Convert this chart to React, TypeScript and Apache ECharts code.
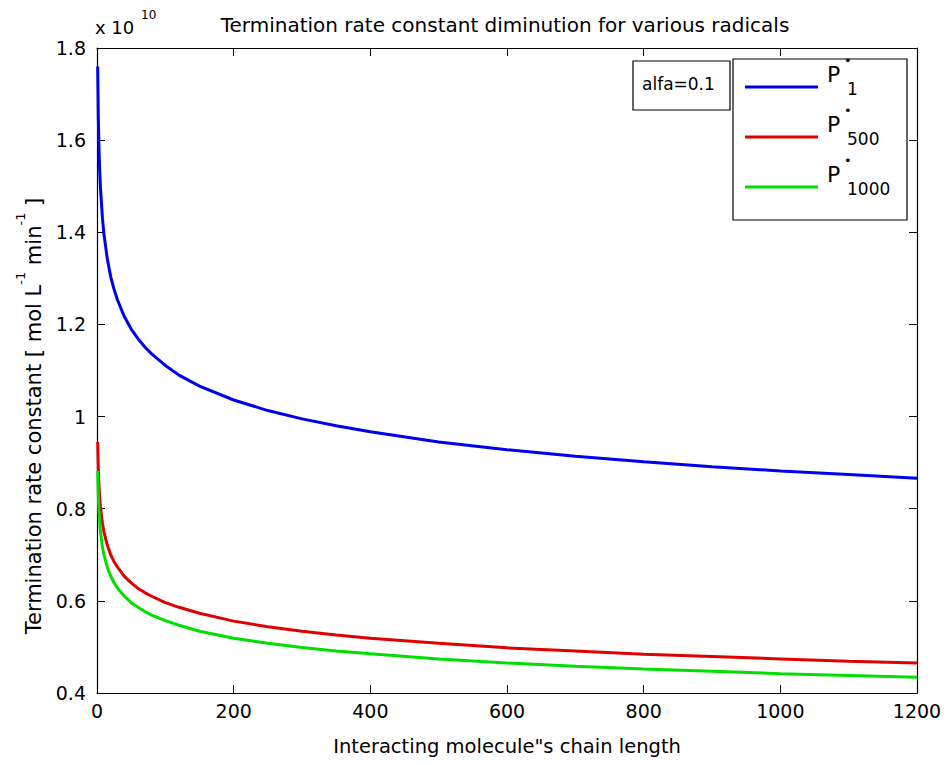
import React, { useEffect, useRef } from "react";
import * as echarts from "echarts";

// Chain length (x) sampled along the curves
const chainLength = [1, 2, 3, 4, 5, 8, 10, 15, 20, 25, 30, 40, 50, 60, 70, 80, 100, 120, 150, 200, 250, 300, 350, 400, 500, 600, 700, 800, 900, 1000, 1100, 1200];

// Values (x 10^10)
const p1Values = [1.760, 1.642, 1.577, 1.532, 1.498, 1.430, 1.398, 1.343, 1.304, 1.276, 1.253, 1.217, 1.190, 1.169, 1.151, 1.136, 1.111, 1.090, 1.066, 1.036, 1.013, 0.995, 0.980, 0.967, 0.945, 0.928, 0.914, 0.902, 0.891, 0.882, 0.874, 0.866];
const p500Values = [0.945, 0.882, 0.847, 0.823, 0.804, 0.768, 0.751, 0.721, 0.700, 0.685, 0.673, 0.653, 0.639, 0.627, 0.618, 0.610, 0.596, 0.586, 0.573, 0.556, 0.544, 0.534, 0.526, 0.519, 0.508, 0.498, 0.491, 0.484, 0.479, 0.474, 0.469, 0.465];
const p1000Values = [0.882, 0.823, 0.790, 0.768, 0.751, 0.716, 0.701, 0.673, 0.654, 0.639, 0.628, 0.610, 0.596, 0.586, 0.577, 0.569, 0.557, 0.547, 0.534, 0.519, 0.508, 0.499, 0.491, 0.485, 0.474, 0.465, 0.458, 0.452, 0.447, 0.442, 0.438, 0.434];

const seriesNames = ["P1", "P500", "P1000"];
const subscripts = ["1", "500", "1000"];
const seriesColors = ["#0000f0", "#e00000", "#00e000"];

const titleText = "Termination rate constant diminution for various radicals";
const xAxisTitle = "Interacting molecule\"s chain length";
const alfaText = "alfa=0.1";

const FONT = "DejaVu Sans, Verdana, sans-serif";

export default function App() {
  const ref = useRef<HTMLDivElement>(null);

  useEffect(() => {
    document.body.style.margin = "0";
    if (!ref.current) return;
    const chart = echarts.init(ref.current, undefined, { renderer: "svg" });

    const allValues = [p1Values, p500Values, p1000Values];
    const series = allValues.map((vals, i) => ({
      name: seriesNames[i],
      type: "line",
      xAxisIndex: 0,
      yAxisIndex: 0,
      data: chainLength.map((x, j) => [x, vals[j]]),
      showSymbol: false,
      smooth: false,
      lineStyle: { color: seriesColors[i], width: 3 },
      itemStyle: { color: seriesColors[i] },
    }));

    const legendX = 733;
    const legendY = 59;
    const legendElems: any[] = [
      {
        type: "rect",
        shape: { x: legendX, y: legendY, width: 174, height: 161 },
        style: { fill: "#fff", stroke: "#000", lineWidth: 1.2 },
        z: 100,
      },
      {
        type: "rect",
        shape: { x: 633, y: 61, width: 97, height: 49 },
        style: { fill: "#fff", stroke: "#000", lineWidth: 1.2 },
        z: 100,
      },
      {
        type: "text",
        x: 642,
        y: 84,
        style: { text: alfaText, font: `17px ${FONT}`, fill: "#000", verticalAlign: "middle", align: "left" },
        z: 101,
      },
    ];
    subscripts.forEach((sub, k) => {
      const y0 = 87 + 50 * k;
      legendElems.push(
        {
          type: "line",
          shape: { x1: 745, y1: y0, x2: 818, y2: y0 },
          style: { stroke: seriesColors[k], lineWidth: 3 },
          z: 101,
        },
        {
          type: "text",
          x: 827,
          y: y0 - 13,
          style: { text: "P", font: `22px ${FONT}`, fill: "#000", verticalAlign: "middle", align: "left" },
          z: 101,
        },
        {
          type: "text",
          x: 844,
          y: y0 - 27,
          style: { text: "•", font: `13px ${FONT}`, fill: "#000", verticalAlign: "middle", align: "left" },
          z: 101,
        },
        {
          type: "text",
          x: 847,
          y: y0 + 2,
          style: { text: sub, font: `17px ${FONT}`, fill: "#000", verticalAlign: "middle", align: "left" },
          z: 101,
        }
      );
    });

    const option: any = {
      animation: false,
      backgroundColor: "#fff",
      textStyle: { fontFamily: FONT },
      title: {
        text: titleText,
        left: 500,
        top: 10,
        textAlign: "center",
        textStyle: { fontFamily: FONT, fontSize: 20, fontWeight: "normal", color: "#000" },
      },
      grid: { left: 97, right: 29, top: 48, bottom: 72, containLabel: false },
      xAxis: [
        {
          type: "value",
          min: 0,
          max: 1200,
          interval: 200,
          position: "bottom",
          axisLine: { show: true, onZero: false, lineStyle: { color: "#000", width: 1.2 } },
          axisTick: { show: true, inside: true, length: 8, lineStyle: { color: "#000" } },
          axisLabel: { color: "#000", fontSize: 19, fontFamily: FONT, margin: 8, formatter: (v: number) => String(v) },
          splitLine: { show: false },
          name: xAxisTitle,
          nameLocation: "middle",
          nameGap: 43,
          nameTextStyle: { color: "#000", fontSize: 19.5, fontFamily: FONT },
        },
        {
          type: "value",
          min: 0,
          max: 1200,
          interval: 200,
          position: "top",
          axisLine: { show: true, onZero: false, lineStyle: { color: "#000", width: 1.2 } },
          axisTick: { show: true, inside: true, length: 8, lineStyle: { color: "#000" } },
          axisLabel: { show: false },
          splitLine: { show: false },
        },
      ],
      yAxis: [
        {
          type: "value",
          min: 0.4,
          max: 1.8,
          interval: 0.2,
          position: "left",
          axisLine: { show: true, onZero: false, lineStyle: { color: "#000", width: 1.2 } },
          axisTick: { show: true, inside: true, length: 8, lineStyle: { color: "#000" } },
          axisLabel: {
            color: "#000",
            fontSize: 19,
            fontFamily: FONT,
            margin: 11,
            formatter: (v: number) => String(parseFloat(v.toFixed(1))),
          },
          splitLine: { show: false },
        },
        {
          type: "value",
          min: 0.4,
          max: 1.8,
          interval: 0.2,
          position: "right",
          axisLine: { show: true, onZero: false, lineStyle: { color: "#000", width: 1.2 } },
          axisTick: { show: true, inside: true, length: 8, lineStyle: { color: "#000" } },
          axisLabel: { show: false },
          splitLine: { show: false },
        },
      ],
      series,
      graphic: [
        {
          type: "text",
          x: 95,
          y: 27,
          style: { text: "x 10", font: `18px ${FONT}`, fill: "#000", verticalAlign: "middle", align: "left" },
        },
        {
          type: "text",
          x: 141,
          y: 15,
          style: { text: "10", font: `12px ${FONT}`, fill: "#000", verticalAlign: "middle", align: "left" },
        },
        {
          type: "text",
          x: 29,
          y: 416,
          rotation: Math.PI / 2,
          style: {
            text: "{n|Termination rate constant [ mol L}{s|-1}{n| min}{s|-1}{n| ]}",
            align: "center",
            verticalAlign: "middle",
            fill: "#000",
            rich: {
              n: { fontSize: 21, fontFamily: FONT, fill: "#000", lineHeight: 30, verticalAlign: "bottom" },
              s: { fontSize: 13, fontFamily: FONT, fill: "#000", lineHeight: 30, verticalAlign: "top" },
            },
          },
        },
        ...legendElems,
      ],
    };

    chart.setOption(option);
    return () => chart.dispose();
  }, []);

  return <div ref={ref} style={{ width: 946, height: 765 }} />;
}
